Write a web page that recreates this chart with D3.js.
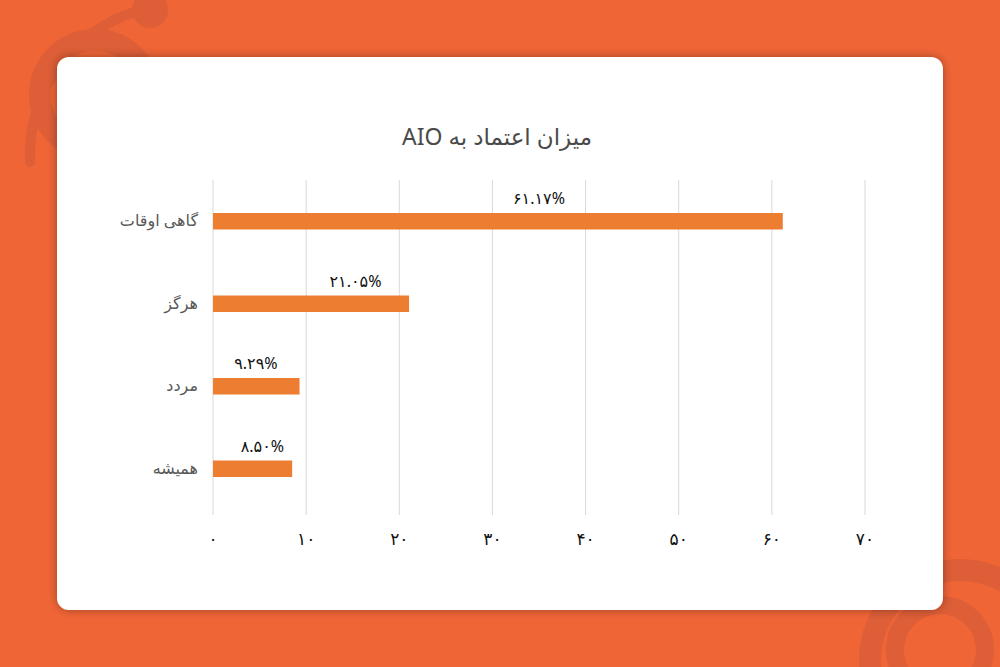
<!DOCTYPE html>
<html><head><meta charset="utf-8">
<script src="https://cdn.jsdelivr.net/npm/d3@7"></script>
<style>body{margin:0;background:#F06536}</style>
</head><body><div id="chart"></div>
<script>
const categories = ['گاهی اوقات', 'هرگز', 'مردد', 'همیشه']
const values = [61.17, 21.05, 9.29, 8.50]
const valueLabels = ['۶۱.۱۷%', '۲۱.۰۵%', '۹.۲۹%', '۸.۵۰%']
// where each value label sits, in axis units
const labelAt = [35.0, 15.3, 4.6, 5.3]
const ticks = [0, 10, 20, 30, 40, 50, 60, 70]
const tickLabels = ['۰', '۱۰', '۲۰', '۳۰', '۴۰', '۵۰', '۶۰', '۷۰']

const width = 1000, height = 667
const font = 'Noto Sans, DejaVu Sans, sans-serif'
const svg = d3.select('#chart').append('svg').attr('width', width).attr('height', height)

// background decoration
const deco = svg.append('g').attr('fill', 'none').attr('stroke', '#DD5E37')
deco.append('path').attr('d', 'M30,162 A150,150 0 0 1 150,8').attr('stroke-width', 10).attr('stroke-linecap', 'round')
deco.append('circle').attr('cx', 95).attr('cy', 95).attr('r', 55).attr('stroke-width', 22)
svg.append('circle').attr('cx', 150).attr('cy', 10).attr('r', 18).attr('fill', '#DD5E37')
deco.append('circle').attr('cx', 960).attr('cy', 660).attr('r', 90).attr('stroke-width', 22)
deco.append('circle').attr('cx', 940).attr('cy', 650).attr('r', 45).attr('stroke-width', 18)

const defs = svg.append('defs')
const f = defs.append('filter').attr('id', 'sh').attr('x', '-5%').attr('y', '-5%').attr('width', '110%').attr('height', '110%')
f.append('feDropShadow').attr('dx', 0).attr('dy', 0).attr('stdDeviation', 5).attr('flood-color', '#000').attr('flood-opacity', 0.35)

svg.append('rect').attr('x', 57).attr('y', 57).attr('width', 886).attr('height', 553)
  .attr('rx', 12).attr('fill', '#fff').attr('filter', 'url(#sh)')

svg.append('text').attr('x', 497).attr('y', 145).attr('text-anchor', 'middle')
  .attr('font-family', font).attr('font-size', 23).attr('fill', '#4a4a4a')
  .attr('direction', 'rtl').text('میزان اعتماد به AIO')

const x = d3.scaleLinear().domain([0, 70]).range([213, 865])
const y = d3.scaleBand().domain(categories).range([180, 510]).paddingInner(0.8).paddingOuter(0.4)

svg.append('g').selectAll('line').data(ticks).join('line')
  .attr('x1', d => x(d)).attr('x2', d => x(d)).attr('y1', 180).attr('y2', 515)
  .attr('stroke', '#d9d9d9').attr('stroke-width', 1)

svg.append('g').selectAll('rect').data(values).join('rect')
  .attr('x', x(0)).attr('y', (d, i) => y(categories[i]))
  .attr('width', d => x(d) - x(0)).attr('height', y.bandwidth())
  .attr('fill', '#ED7D31')

svg.append('g').selectAll('text').data(valueLabels).join('text')
  .attr('x', (d, i) => x(labelAt[i])).attr('y', (d, i) => y(categories[i]) - 9)
  .attr('text-anchor', 'middle').attr('font-family', font)
  .attr('font-size', 16).attr('fill', '#111').text(d => d)

svg.append('g').selectAll('text').data(categories).join('text')
  .attr('x', 198).attr('y', d => y(d) + y.bandwidth() / 2 + 5)
  .attr('text-anchor', 'end').attr('font-family', font)
  .attr('font-size', 16).attr('fill', '#595959').text(d => d)

svg.append('g').selectAll('text').data(ticks).join('text')
  .attr('x', d => x(d)).attr('y', 545).attr('text-anchor', 'middle')
  .attr('font-family', font).attr('font-size', 17).attr('fill', '#111')
  .text((d, i) => tickLabels[i])
</script></body></html>
